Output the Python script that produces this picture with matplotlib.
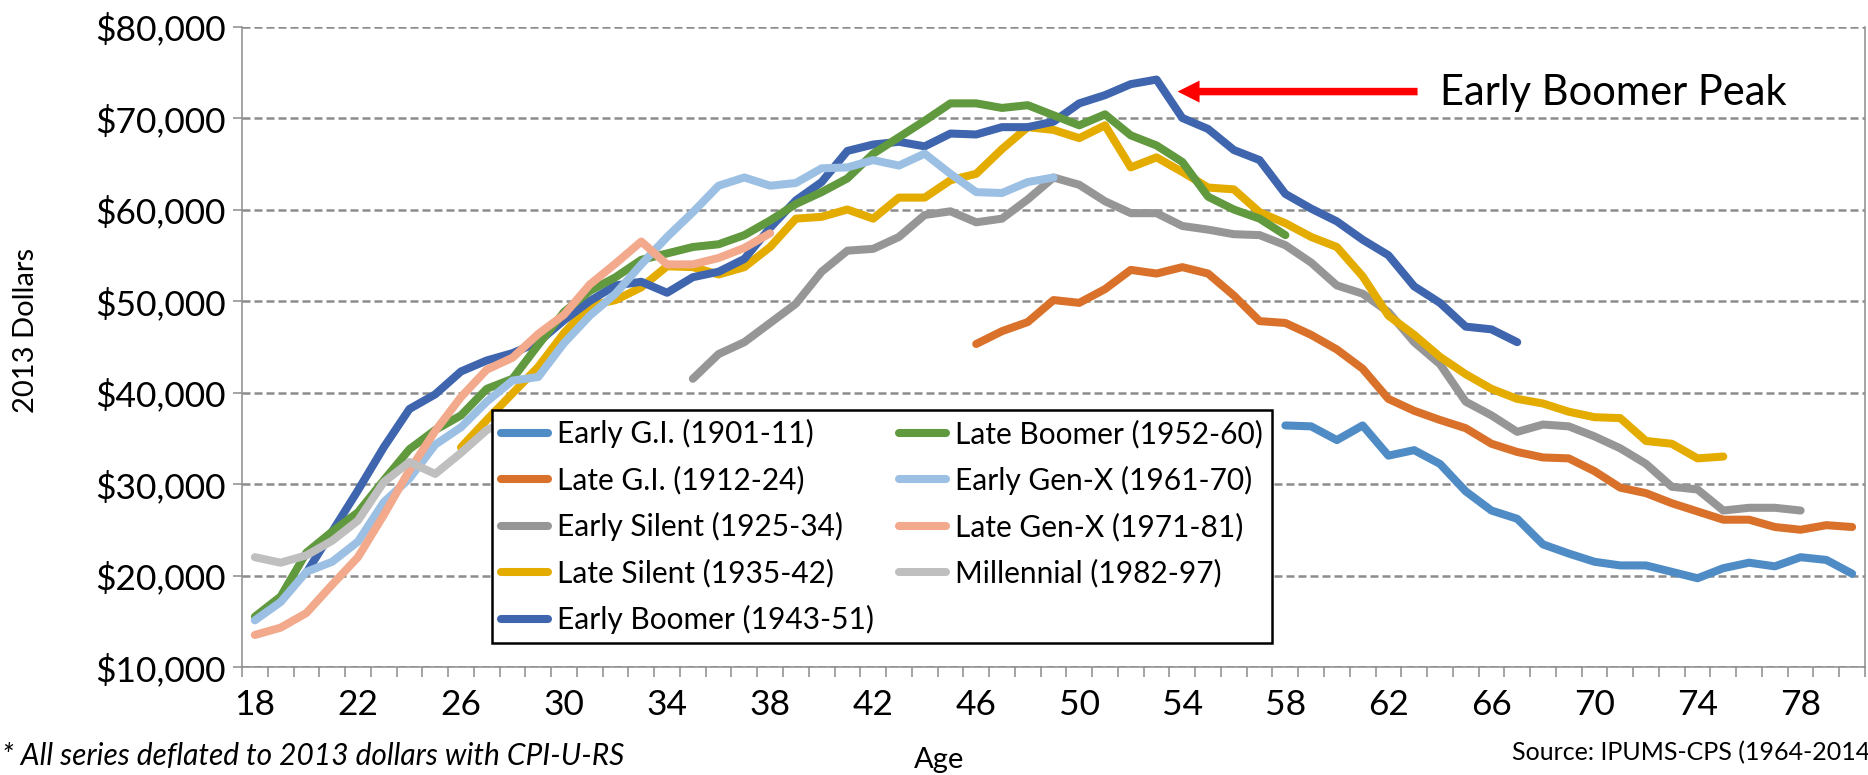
import numpy as np
import matplotlib.pyplot as plt
from matplotlib.patches import FancyArrow
from matplotlib.ticker import FuncFormatter
from matplotlib.transforms import IdentityTransform

plt.rcParams['font.family'] = ['Lato', 'DejaVu Sans']

# median income by age, 2013 dollars; each cohort starts at its first age
early_gi_start = 58
early_gi = [36400, 36300, 34800, 36400, 33100, 33700, 32200, 29200, 27100, 26200,
            23400, 22400, 21500, 21100, 21100, 20400, 19700, 20800, 21400, 21000,
            22000, 21700, 20200]

late_gi_start = 46
late_gi = [45300, 46700, 47700, 50100, 49800, 51300, 53400, 53000, 53700, 53000,
           50600, 47800, 47600, 46300, 44700, 42600, 39300, 38000, 37000, 36100,
           34400, 33500, 32900, 32800, 31400, 29600, 29000, 27900, 27000, 26100,
           26100, 25300, 25000, 25500, 25300]

early_silent_start = 35
early_silent = [41500, 44200, 45500, 47600, 49700, 53200, 55500, 55700, 57000, 59400,
                59800, 58600, 59000, 61100, 63500, 62700, 60900, 59600, 59600, 58200,
                57800, 57300, 57200, 56100, 54200, 51700, 50800, 48800, 45500, 43100,
                39000, 37500, 35700, 36500, 36300, 35200, 33900, 32200, 29700, 29400,
                27100, 27400, 27400, 27100]

late_silent_start = 26
late_silent = [34000, 37000, 39900, 42800, 46500, 49500, 50100, 51500, 53800, 53700,
               52900, 53700, 55900, 59000, 59200, 60000, 59000, 61300, 61300, 63200,
               63900, 66600, 69000, 68700, 67800, 69200, 64600, 65700, 64100, 62400,
               62200, 59700, 58500, 57000, 55900, 52700, 48400, 46300, 43900, 42000,
               40400, 39300, 38800, 37900, 37300, 37200, 34700, 34400, 32800, 33000]

early_boomer_start = 20
early_boomer = [20300, 24800, 29300, 34000, 38200, 39800, 42300, 43500, 44300, 45500,
                47900, 50000, 51700, 52100, 50900, 52600, 53200, 54600, 58000, 61000,
                63000, 66400, 67100, 67400, 66900, 68300, 68200, 69000, 69000, 69600,
                71600, 72500, 73700, 74200, 70000, 68800, 66500, 65400, 61700, 60100,
                58700, 56700, 55000, 51600, 49800, 47200, 46900, 45500]

late_boomer_start = 18
late_boomer = [15500, 17700, 22500, 24800, 26900, 30400, 33800, 35900, 37500, 40400,
               41500, 45200, 48800, 51100, 52600, 54500, 55200, 55900, 56200, 57200,
               58800, 60600, 61900, 63400, 66100, 67900, 69700, 71600, 71600, 71100,
               71400, 70300, 69200, 70400, 68100, 67000, 65200, 61400, 60000, 59000,
               57200]

early_genx_start = 18
early_genx = [15100, 17100, 20400, 21500, 23700, 28000, 30600, 34300, 36200, 39000,
              41300, 41700, 45400, 48400, 50800, 54000, 57000, 59700, 62600, 63500,
              62600, 62900, 64500, 64600, 65400, 64800, 66100, 63900, 61900, 61800,
              63000, 63500]

late_genx_start = 18
late_genx = [13500, 14300, 15900, 19000, 22000, 26600, 31500, 35800, 39500, 42500,
             43800, 46400, 48500, 51800, 54100, 56500, 54000, 54000, 54700, 55800,
             57400]

millennial_start = 18
millennial = [22000, 21400, 22200, 23800, 26000, 30200, 32400, 31100, 33400, 35900,
              37200]

series = [
    ('Early G.I. (1901-11)', early_gi_start, early_gi, '#4f8cc6'),
    ('Late G.I. (1912-24)', late_gi_start, late_gi, '#d9712a'),
    ('Early Silent (1925-34)', early_silent_start, early_silent, '#969696'),
    ('Late Silent (1935-42)', late_silent_start, late_silent, '#e5ac00'),
    ('Early Boomer (1943-51)', early_boomer_start, early_boomer, '#3e65ad'),
    ('Late Boomer (1952-60)', late_boomer_start, late_boomer, '#61993f'),
    ('Early Gen-X (1961-70)', early_genx_start, early_genx, '#9cc0e4'),
    ('Late Gen-X (1971-81)', late_genx_start, late_genx, '#f2a98c'),
    ('Millennial (1982-97)', millennial_start, millennial, '#bfbfbf'),
]

W, H = 1868, 775
fig = plt.figure(figsize=(W / 100, H / 100), dpi=100)
ax = fig.add_axes([242 / W, 1 - 667 / H, (1865 - 242) / W, (667 - 26.5) / H])

for name, start, vals, col in series:
    ages = np.arange(start, start + len(vals))
    ax.plot(ages, vals, color=col, lw=5.8, solid_capstyle='round',
            solid_joinstyle='round', label=name)

grey = '#8c8c8c'
ax.set_xlim(17.5, 80.5)
ax.set_ylim(10000, 80000)
ax.set_yticks(np.arange(10000, 80001, 10000))
ax.yaxis.set_major_formatter(FuncFormatter(lambda v, p: f'${v:,.0f}'))
ax.set_xticks(np.arange(17.5, 81, 1))
ax.set_xticklabels([])
ax.set_xticks(np.arange(18, 81, 4), minor=True)
ax.set_xticklabels([str(a) for a in range(18, 81, 4)], minor=True)
ax.tick_params(axis='x', which='major', length=7.2, width=1.1, color=grey)
ax.tick_params(axis='x', which='minor', length=0, pad=16, labelsize=25.5)
ax.tick_params(axis='y', length=6.5, width=1.1, color=grey, pad=5, labelsize=25.5)

ax.set_axisbelow(True)
ax.yaxis.grid(True, color=grey, ls=(0, (3.2, 1.6)), lw=1.8)
ax.spines['top'].set_visible(False)
for s in ['left', 'bottom', 'right']:
    ax.spines[s].set_color(grey)
    ax.spines[s].set_linewidth(1.1)

leg = ax.legend(ncol=2, loc='upper left', bbox_to_anchor=(492 / W, 1 - 410 / H),
                bbox_transform=fig.transFigure, borderaxespad=0, fancybox=False,
                edgecolor='black', framealpha=1, fontsize=21.5, handlelength=1.57,
                handletextpad=0.3, labelspacing=0.59, columnspacing=0.84,
                borderpad=0.3)
leg.get_frame().set_linewidth(1.8)

# red arrow pointing at the Early Boomer peak
pk = int(np.argmax(early_boomer))
tip = ax.transData.transform((early_boomer_start + pk, early_boomer[pk]))
tip_x, tip_y = tip[0] + 21, tip[1] - 12
arrow = FancyArrow(tip_x + 240, tip_y, -240, 0, width=7.5, head_width=22,
                   head_length=22, length_includes_head=True, color='#ff0000',
                   lw=0, transform=IdentityTransform())
fig.add_artist(arrow)
fig.text((tip_x + 262) / W, (tip_y - 13) / H, 'Early Boomer Peak', fontsize=30,
         ha='left', va='baseline')

fig.text(26 / W, 1 - 330 / H, '2013 Dollars', rotation=90, fontsize=21,
         ha='center', va='center')
fig.text(939 / W, 1 - 760 / H, 'Age', fontsize=21, ha='center', va='center')
fig.text(2 / W, 1 - 756 / H, '* All series deflated to 2013 dollars with CPI-U-RS',
         style='italic', fontsize=21.5, ha='left', va='center')
fig.text(1512 / W, 1 - 753 / H, 'Source: IPUMS-CPS (1964-2014)', fontsize=18,
         ha='left', va='center')

fig.savefig('out.png', dpi=100, facecolor='white')
